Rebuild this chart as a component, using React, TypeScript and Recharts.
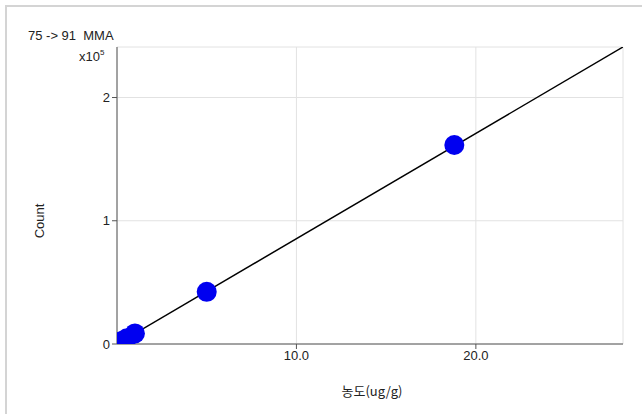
import React from "react";
import {
  CartesianGrid,
  ComposedChart,
  Line,
  Scatter,
  XAxis,
  YAxis,
} from "recharts";

// Standards: concentration (ug/g) vs count
const standardX = [0.25, 0.55, 1.0, 5.0, 18.8];
const standardY = [2200, 4600, 8600, 42300, 161500];

// Calibration line ends
const fitX = [0, 28.2];
const fitY = [0, 241000];

const xTicks = [10, 20];
const yTicks = [0, 100000, 200000];

const points = standardX.map((x, i) => ({ x, y: standardY[i] }));
const fit = fitX.map((x, i) => ({ x, y: fitY[i] }));

const font = "'Liberation Sans', Arial, sans-serif";
const axisColor = "#555";
const textStyle = { fill: "#222", fontSize: 13, fontFamily: font };

const Dot = (props: any) => {
  const { cx, cy } = props;
  if (cx == null || cy == null) return null;
  return <circle cx={cx} cy={cy} r={10} fill="#0000f0" />;
};

export default function App() {
  return (
    <div
      style={{
        position: "absolute",
        left: 0,
        top: 0,
        width: 642,
        height: 414,
        background: "#fff",
        fontFamily: font,
      }}
    >
      <div
        style={{
          position: "absolute",
          left: 5,
          top: 5,
          width: 637,
          height: 409,
          borderLeft: "2px solid #d4d4d4",
          borderTop: "2px solid #d4d4d4",
          boxSizing: "border-box",
        }}
      />
      <ComposedChart
        width={642}
        height={414}
        margin={{ top: 47, right: 19, bottom: 40, left: 57 }}
        style={{ position: "absolute", left: 0, top: 0 }}
      >
        <CartesianGrid stroke="#e2e2e2" />
        <XAxis
          type="number"
          dataKey="x"
          domain={[0, 28.2]}
          ticks={xTicks}
          tickFormatter={(v) => Number(v).toFixed(1)}
          tick={textStyle}
          stroke={axisColor}
          tickSize={5}
          height={30}
          allowDataOverflow
        />
        <YAxis
          type="number"
          dataKey="y"
          domain={[0, 241000]}
          ticks={yTicks}
          tickFormatter={(v) => String(Math.round(Number(v) / 100000))}
          tick={textStyle}
          stroke={axisColor}
          tickSize={5}
          width={60}
          allowDataOverflow
        />
        <Line
          data={fit}
          dataKey="y"
          type="linear"
          stroke="#000"
          strokeWidth={1.5}
          dot={false}
          activeDot={false}
          isAnimationActive={false}
        />
        <Scatter
          data={points}
          dataKey="y"
          shape={<Dot />}
          isAnimationActive={false}
        />
      </ComposedChart>
      <div style={{ position: "absolute", left: 28, top: 28, fontSize: 13, color: "#222" }}>
        75 -&gt; 91&nbsp;&nbsp;MMA
      </div>
      <div style={{ position: "absolute", left: 79, top: 49, fontSize: 13, color: "#222" }}>
        x10<sup style={{ fontSize: 8, verticalAlign: "top", position: "relative", top: -1 }}>5</sup>
      </div>
      <div
        style={{
          position: "absolute",
          left: 39,
          top: 221,
          fontSize: 13,
          color: "#222",
          transform: "translate(-50%, -50%) rotate(-90deg)",
        }}
      >
        Count
      </div>
      <div
        style={{
          position: "absolute",
          left: 372,
          top: 390,
          fontSize: 13,
          color: "#222",
          transform: "translate(-50%, -50%)",
          fontFamily: "'Noto Sans CJK KR', 'Liberation Sans', sans-serif",
        }}
      >
        농도(ug/g)
      </div>
    </div>
  );
}
